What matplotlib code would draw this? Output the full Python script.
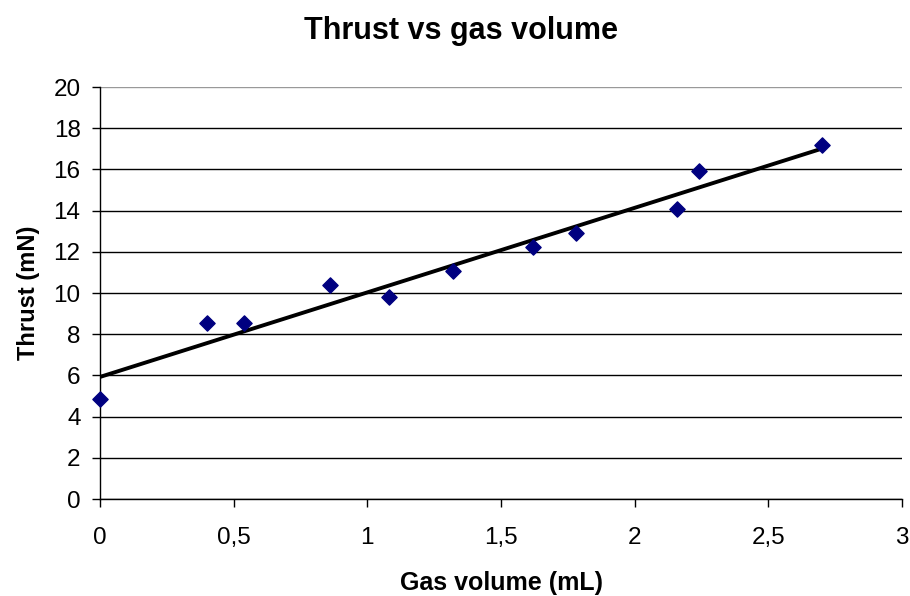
import numpy as np
import matplotlib.pyplot as plt
from matplotlib.ticker import FuncFormatter

plt.rcParams['font.family'] = ['Liberation Sans', 'DejaVu Sans']

# Data
gas_volume = [0.0, 0.40, 0.54, 0.86, 1.08, 1.32, 1.62, 1.78, 2.16, 2.24, 2.70]
thrust = [4.85, 8.55, 8.55, 10.4, 9.8, 11.07, 12.23, 12.9, 14.08, 15.9, 17.18]

fig = plt.figure(figsize=(9.1, 5.96), dpi=100)
ax = fig.add_axes([100 / 910, 97 / 596, 802 / 910, 412 / 596])

# linear trend line
slope, intercept = np.polyfit(gas_volume, thrust, 1)
xs = np.array([min(gas_volume), max(gas_volume)])
ax.plot(xs, slope * xs + intercept, color='black', lw=2.8, zorder=2)

ax.scatter(gas_volume, thrust, marker='D', s=60, color='#000080', zorder=3, clip_on=False)

ax.set_xlim(0, 3)
ax.set_ylim(0, 20)
ax.set_xticks(np.arange(0, 3.01, 0.5))
ax.set_yticks(np.arange(0, 21, 2))
ax.xaxis.set_major_formatter(FuncFormatter(lambda v, p: f'{v:g}'.replace('.', ',')))

ax.yaxis.grid(True, color='black', lw=1)
ax.get_ygridlines()[-1].set_color('#999999')
ax.set_axisbelow(True)
for s in ['top', 'right']:
    ax.spines[s].set_visible(False)
ax.spines['left'].set_linewidth(1)
ax.spines['bottom'].set_linewidth(1)
ax.tick_params(direction='out', length=6, width=1, labelsize=17.5)
ax.tick_params(axis='x', pad=14)
ax.tick_params(axis='y', pad=8)

ax.set_xlabel('Gas volume (mL)', fontsize=18, fontweight='bold', labelpad=16)
ax.set_ylabel('Thrust (mN)', fontsize=17, fontweight='bold', labelpad=10)
fig.text(461 / 910, 1 - 31 / 596, 'Thrust vs gas volume', ha='center', va='center',
         fontsize=22, fontweight='bold')

fig.savefig('out.png', dpi=100)
